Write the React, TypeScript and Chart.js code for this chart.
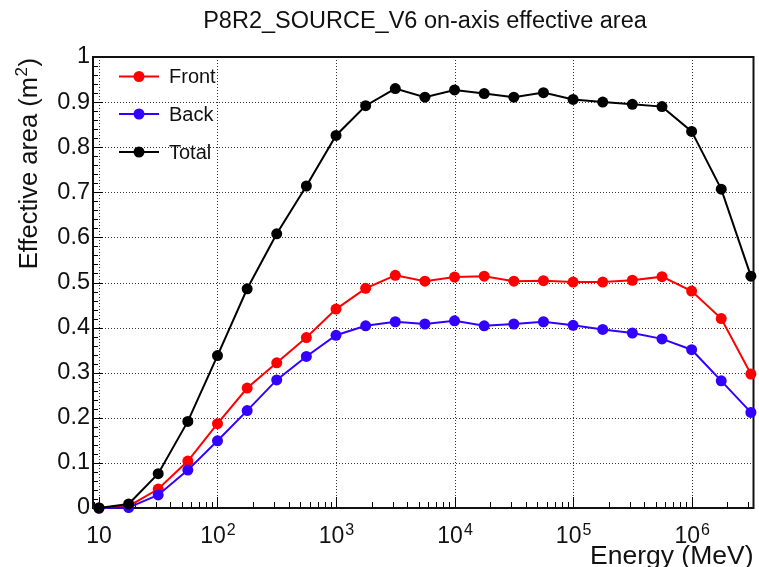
import React, { useEffect, useRef } from "react";
import { Chart, registerables } from "chart.js";
Chart.register(...registerables);

const FONT = "'Liberation Sans', Arial, Helvetica, sans-serif";

const chartTitle = "P8R2_SOURCE_V6 on-axis effective area";
const xAxisTitle = "Energy (MeV)";
const yAxisTitleMain = "Effective area (m";
const yAxisTitleSup = "2";
const yAxisTitleEnd = ")";

const energies = [10, 17.8, 31.6, 56.2, 100, 178, 316, 562, 1000, 1778, 3162, 5623, 10000, 17783, 31623, 56234, 100000, 177828, 316228, 562341, 1000000, 1778279, 3162278];
const frontArea = [0, 0.004, 0.042, 0.104, 0.187, 0.266, 0.322, 0.378, 0.441, 0.487, 0.516, 0.503, 0.512, 0.514, 0.503, 0.504, 0.501, 0.501, 0.505, 0.513, 0.481, 0.42, 0.297];
const backArea = [0, 0.001, 0.029, 0.084, 0.149, 0.216, 0.284, 0.336, 0.383, 0.404, 0.413, 0.408, 0.415, 0.404, 0.408, 0.413, 0.405, 0.396, 0.388, 0.375, 0.351, 0.282, 0.212];
const totalArea = [0, 0.009, 0.076, 0.192, 0.338, 0.486, 0.608, 0.714, 0.826, 0.892, 0.93, 0.911, 0.927, 0.919, 0.911, 0.921, 0.906, 0.9, 0.895, 0.89, 0.835, 0.707, 0.514];

const seriesNames = ["Front", "Back", "Total"];
const seriesColors = ["#ff0000", "#3300ff", "#000000"];

const xMajorTicks = [10, 100, 1000, 10000, 100000, 1000000];
const xTickBase = ["10", "10", "10", "10", "10", "10"];
const xTickExp = ["", "2", "3", "4", "5", "6"];
const yTicks = [0, 0.1, 0.2, 0.3, 0.4, 0.5, 0.6, 0.7, 0.8, 0.9, 1];
const yTickLabels = ["0", "0.1", "0.2", "0.3", "0.4", "0.5", "0.6", "0.7", "0.8", "0.9", "1"];

const X_MIN = 8.906;
const X_MAX = 3.327e6;

const rootStyle = {
  id: "rootStyle",
  beforeDatasetsDraw(chart: any) {
    const { ctx, chartArea: a, scales } = chart;
    const xs = scales.x;
    const ys = scales.y;
    ctx.save();
    // dotted grid
    ctx.strokeStyle = "#333";
    ctx.lineWidth = 1;
    ctx.setLineDash([1, 2]);
    ctx.beginPath();
    for (const v of xMajorTicks) {
      const px = Math.round(xs.getPixelForValue(v)) + 0.5;
      ctx.moveTo(px, a.top);
      ctx.lineTo(px, a.bottom);
    }
    for (const v of yTicks) {
      if (v <= 0 || v >= 1) continue;
      const py = Math.round(ys.getPixelForValue(v)) + 0.5;
      ctx.moveTo(a.left, py);
      ctx.lineTo(a.right, py);
    }
    ctx.stroke();
    ctx.setLineDash([]);
    // inward ticks
    ctx.strokeStyle = "#000";
    ctx.lineWidth = 1;
    ctx.beginPath();
    for (let i = 1; i < 50; i++) {
      const v = i * 0.02;
      const py = Math.round(ys.getPixelForValue(v)) + 0.5;
      const len = i % 5 === 0 ? 10 : 5;
      ctx.moveTo(a.left, py);
      ctx.lineTo(a.left + len, py);
    }
    for (let d = 1; d <= 1e6; d *= 10) {
      for (let k = 1; k <= 9; k++) {
        const v = k * d;
        if (v < X_MIN || v > X_MAX) continue;
        const px = Math.round(xs.getPixelForValue(v)) + 0.5;
        const len = k === 1 ? 11 : 6;
        ctx.moveTo(px, a.bottom);
        ctx.lineTo(px, a.bottom - len);
      }
    }
    ctx.stroke();
    // frame
    ctx.lineWidth = 2;
    ctx.strokeStyle = "#111";
    ctx.strokeRect(a.left, a.top, a.right - a.left, a.bottom - a.top);
    ctx.restore();
  },
  afterDraw(chart: any) {
    const { ctx, chartArea: a, scales } = chart;
    const xs = scales.x;
    ctx.save();
    ctx.fillStyle = "#111";
    // title
    ctx.font = `23.5px ${FONT}`;
    ctx.textAlign = "center";
    ctx.textBaseline = "alphabetic";
    ctx.fillText(chartTitle, 425, 27.5);
    // x tick labels with superscripts
    for (let i = 0; i < xMajorTicks.length; i++) {
      const px = xs.getPixelForValue(xMajorTicks[i]);
      ctx.font = `23px ${FONT}`;
      const wb = ctx.measureText(xTickBase[i]).width;
      ctx.font = `16px ${FONT}`;
      const we = xTickExp[i] ? ctx.measureText(xTickExp[i]).width : 0;
      const start = px - (wb + we) / 2;
      ctx.textAlign = "left";
      ctx.font = `23px ${FONT}`;
      ctx.fillText(xTickBase[i], start, 543);
      if (xTickExp[i]) {
        ctx.font = `16px ${FONT}`;
        ctx.fillText(xTickExp[i], start + wb + 1, 535);
      }
    }
    // x axis title
    ctx.font = `26.5px ${FONT}`;
    ctx.textAlign = "right";
    ctx.fillText(xAxisTitle, a.right, 564);
    // y axis title (rotated)
    ctx.save();
    ctx.translate(37, a.top + 1);
    ctx.rotate(-Math.PI / 2);
    ctx.font = `25.5px ${FONT}`;
    const w1 = ctx.measureText(yAxisTitleMain).width;
    const w3 = ctx.measureText(yAxisTitleEnd).width;
    ctx.font = `17px ${FONT}`;
    const w2 = ctx.measureText(yAxisTitleSup).width;
    const total = w1 + w2 + w3 + 1;
    ctx.textAlign = "left";
    ctx.font = `25.5px ${FONT}`;
    ctx.fillText(yAxisTitleMain, -total, 0);
    ctx.font = `17px ${FONT}`;
    ctx.fillText(yAxisTitleSup, -total + w1 + 0.5, -10);
    ctx.font = `25.5px ${FONT}`;
    ctx.fillText(yAxisTitleEnd, -total + w1 + w2 + 1, 0);
    ctx.restore();
    // legend
    const rows = [76.5, 114, 152];
    chart.data.datasets.forEach((ds: any, i: number) => {
      const y = rows[i];
      ctx.strokeStyle = ds.borderColor;
      ctx.fillStyle = ds.borderColor;
      ctx.lineWidth = 2;
      ctx.beginPath();
      ctx.moveTo(119, y);
      ctx.lineTo(159, y);
      ctx.stroke();
      ctx.beginPath();
      ctx.arc(139, y, 5.5, 0, Math.PI * 2);
      ctx.fill();
      ctx.fillStyle = "#111";
      ctx.font = `20px ${FONT}`;
      ctx.textAlign = "left";
      ctx.textBaseline = "middle";
      ctx.fillText(ds.label, 169, y + 1);
      ctx.textBaseline = "alphabetic";
    });
    ctx.restore();
  },
};

export default function App() {
  const ref = useRef<HTMLCanvasElement | null>(null);
  useEffect(() => {
    if (!ref.current) return;
    const seriesValues = [frontArea, backArea, totalArea];
    const chart = new Chart(ref.current, {
      type: "line",
      data: {
        datasets: seriesValues.map((vals, i) => ({
          label: seriesNames[i],
          data: energies.map((e, j) => ({ x: e, y: vals[j] })),
          borderColor: seriesColors[i],
          backgroundColor: seriesColors[i],
          pointBackgroundColor: seriesColors[i],
          pointBorderColor: seriesColors[i],
          pointBorderWidth: 0,
          pointRadius: 5.5,
          borderWidth: 2,
          tension: 0,
          fill: false,
          clip: false as any,
          order: 2 - i,
        })),
      },
      options: {
        animation: false,
        responsive: false,
        maintainAspectRatio: false,
        events: [],
        layout: { padding: { top: 57, right: 1, left: 0, bottom: 0 } },
        plugins: {
          legend: { display: false },
          title: { display: false },
          tooltip: { enabled: false },
        },
        scales: {
          x: {
            type: "logarithmic",
            min: X_MIN,
            max: X_MAX,
            grid: { display: false, drawTicks: false },
            border: { display: false },
            ticks: { display: false },
            afterBuildTicks: (s: any) => {
              s.ticks = xMajorTicks.map((v) => ({ value: v }));
            },
            afterFit: (s: any) => {
              s.height = 59;
            },
          },
          y: {
            type: "linear",
            min: 0,
            max: 1,
            grid: { display: false, drawTicks: false },
            border: { display: false },
            afterBuildTicks: (s: any) => {
              s.ticks = yTicks.map((v) => ({ value: v }));
            },
            ticks: {
              autoSkip: false,
              padding: 3,
              color: "#111",
              font: { family: FONT, size: 23.5 },
              callback: (_v: any, idx: number) => yTickLabels[idx],
            },
            afterFit: (s: any) => {
              s.width = 93;
            },
          },
        },
      },
      plugins: [rootStyle],
    });
    return () => chart.destroy();
  }, []);
  return (
    <div style={{ position: "fixed", left: 0, top: 0, width: 759, height: 567, background: "#fff" }}>
      <canvas ref={ref} width={759} height={567} style={{ width: 759, height: 567, display: "block" }} />
    </div>
  );
}
